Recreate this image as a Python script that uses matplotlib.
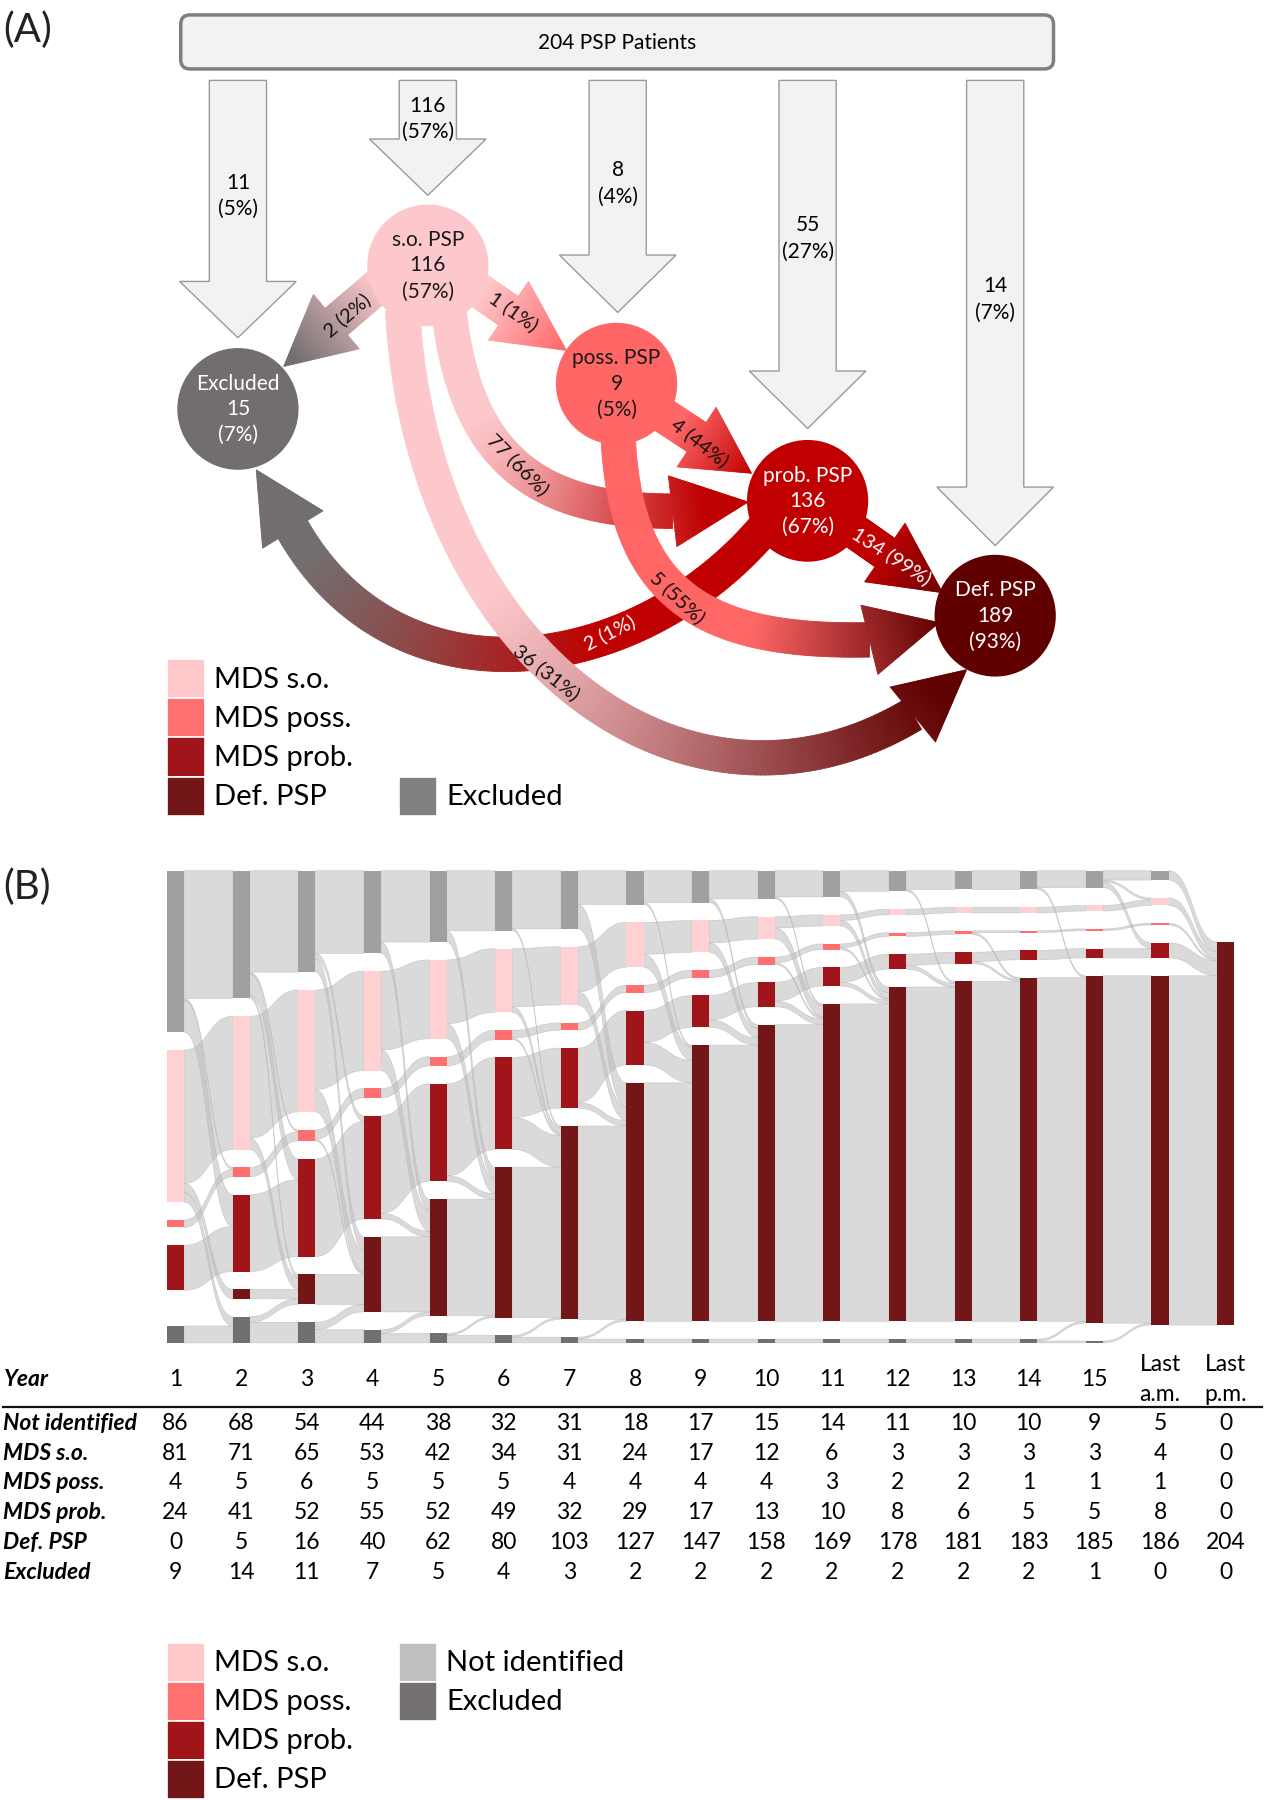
import numpy as np
import matplotlib.pyplot as plt
from matplotlib.patches import Polygon, Ellipse, Rectangle, FancyBboxPatch, PathPatch
from matplotlib.path import Path
from matplotlib.collections import PolyCollection
from matplotlib.colors import to_rgb

plt.rcParams['font.family'] = ['Lato', 'DejaVu Sans']

# ---------------- data, panel A ----------------
entry_n = [11, 116, 8, 55, 14]
entry_pct = [5, 57, 4, 27, 7]
node_names = ['Excluded', 's.o. PSP', 'poss. PSP', 'prob. PSP', 'Def. PSP']
node_n = [15, 116, 9, 136, 189]
node_pct = [7, 57, 5, 67, 93]
flow_src = [1, 1, 2, 1, 1, 2, 3, 3]
flow_dst = [0, 2, 3, 3, 4, 4, 4, 0]
flow_n = [2, 1, 4, 77, 36, 5, 134, 2]
flow_pct = [2, 1, 44, 66, 31, 55, 99, 1]

# ---------------- data, panel B ----------------
years = [str(i) for i in range(1, 16)] + ['Last\na.m.', 'Last\np.m.']
states = ['Not identified', 'MDS s.o.', 'MDS poss.', 'MDS prob.', 'Def. PSP', 'Excluded']
not_identified = [86, 68, 54, 44, 38, 32, 31, 18, 17, 15, 14, 11, 10, 10, 9, 5, 0]
mds_so = [81, 71, 65, 53, 42, 34, 31, 24, 17, 12, 6, 3, 3, 3, 3, 4, 0]
mds_poss = [4, 5, 6, 5, 5, 5, 4, 4, 4, 4, 3, 2, 2, 1, 1, 1, 0]
mds_prob = [24, 41, 52, 55, 52, 49, 32, 29, 17, 13, 10, 8, 6, 5, 5, 8, 0]
def_psp = [0, 5, 16, 40, 62, 80, 103, 127, 147, 158, 169, 178, 181, 183, 185, 186, 204]
excluded = [9, 14, 11, 7, 5, 4, 3, 2, 2, 2, 2, 2, 2, 2, 1, 0, 0]

# ---------------- figure ----------------
fig = plt.figure(figsize=(12.64, 18), dpi=100)
ax = fig.add_axes([0, 0, 1, 1])
ax.set_xlim(0, 1105)
ax.set_ylim(1567, 0)
ax.axis('off')

ax.text(3, 26, '(A)', fontsize=29, va='center', ha='left', color='#222222')
ax.text(3, 772, '(B)', fontsize=29, va='center', ha='left', color='#222222')

# top box
ax.add_patch(FancyBboxPatch((158, 13), 763, 47, boxstyle='round,pad=0,rounding_size=8',
                            fc='#f2f2f2', ec='#7f7f7f', lw=2.5, zorder=2))
ax.text(539.5, 37, '204 PSP Patients', fontsize=15, ha='center', va='center', zorder=3)

# gray entry arrows
arr_cx = [208, 374, 540, 706, 870]
arr_sb = [245, 121, 222, 323, 424]
arr_tip = [294, 170, 272, 373, 475]
arr_ly = [159, 92, 148, 196, 249]
for cx, sb, tp, ly, n, p in zip(arr_cx, arr_sb, arr_tip, arr_ly, entry_n, entry_pct):
    pts = [(cx - 25, 70), (cx + 25, 70), (cx + 25, sb), (cx + 51, sb), (cx, tp),
           (cx - 51, sb), (cx - 25, sb)]
    ax.add_patch(Polygon(pts, closed=True, fc='#f2f2f2', ec='#9a9a9a', lw=1.0, zorder=1))
    ax.text(cx, ly, str(n), fontsize=15, ha='center', va='center', zorder=3)
    ax.text(cx, ly + 23, '(%d%%)' % p, fontsize=15, ha='center', va='center', zorder=3)

# nodes
node_xy = [(208, 356), (374, 231), (539, 334), (706, 436), (870, 536)]
node_fill = ['#736e6e', '#fdc8cc', '#ff6666', '#c00000', '#600000']
node_tc = ['white', '#1a1a1a', '#1a1a1a', 'white', 'white']


def bez(P, n):
    t = np.linspace(0, 1, n)[:, None]
    return ((1 - t) ** 3) * P[0] + 3 * ((1 - t) ** 2) * t * P[1] + 3 * (1 - t) * t ** 2 * P[2] + t ** 3 * P[3]


def grad_arrow(P, tip, c0, c1, g0, g1, z, w=30, hw=62):
    P = np.array(P, float)
    tip = np.array(tip, float)
    pts = bez(P, 160)
    tan = np.gradient(pts, axis=0)
    tan /= np.linalg.norm(tan, axis=1)[:, None]
    nrm = np.column_stack([-tan[:, 1], tan[:, 0]])
    L = pts + nrm * w / 2
    R = pts - nrm * w / 2
    quads = [[L[i], L[i + 1], R[i + 1], R[i]] for i in range(len(pts) - 1)]
    xs = [(pts[i, 0] + pts[i + 1, 0]) / 2 for i in range(len(pts) - 1)]
    base = pts[-1]
    d = tip - base
    d /= np.linalg.norm(d)
    nh = np.array([-d[1], d[0]])
    s = np.linspace(0, 1, 40)
    hp = base + s[:, None] * (tip - base)
    hl = hp + nh * (hw / 2) * (1 - s)[:, None]
    hr = hp - nh * (hw / 2) * (1 - s)[:, None]
    for i in range(len(s) - 1):
        quads.append([hl[i], hl[i + 1], hr[i + 1], hr[i]])
        xs.append((hp[i, 0] + hp[i + 1, 0]) / 2)
    xs = np.array(xs)
    u = (xs - P[0, 0]) / (tip[0] - P[0, 0])
    u = np.clip((u - g0) / (g1 - g0), 0, 1)[:, None]
    cols = np.array(to_rgb(c0)) * (1 - u) + np.array(to_rgb(c1)) * u
    ax.add_collection(PolyCollection(quads, facecolors=cols, edgecolors=cols,
                                     linewidths=0.6, zorder=z))


def straight(a, b):
    a = np.array(a, float)
    b = np.array(b, float)
    return [a, a + (b - a) / 3, a + 2 * (b - a) / 3, b]


flow_geom = [
    straight((340, 241), (294, 280)),
    straight((403, 242), (444.5, 270.5)),
    straight((567, 353), (609, 380.5)),
    [(392, 265), (405, 400), (470, 445), (588, 445)],
    [(352, 270), (368, 570), (600, 740), (798, 622)],
    [(540, 360), (540, 515), (610, 560), (760, 557)],
    straight((732, 452), (773.5, 481)),
    [(680, 445), (570, 590), (350, 625), (256, 461)],
]
flow_tip = [(248, 319), (495, 305), (657, 412), (654, 437), (845, 583),
            (821, 542), (824, 516), (224, 409)]
flow_grad = [(0.1, 0.9), (0.2, 1.0), (0.3, 1.0), (0.1, 0.85), (0.15, 0.95),
             (0.42, 1.0), (0.4, 1.0), (0.35, 0.9)]
flow_lab = [(303, 274, 41), (449, 271, -35), (612, 385, -38), (453, 404, -45),
            (478, 585, -38), (592, 520, -43), (779, 484, -33), (533, 551, 27)]
flow_tc = ['#111111'] * 6 + ['white', 'white']
draw_order = [7, 3, 4, 5, 0, 1, 2, 6]

for k, i in enumerate(draw_order):
    c0 = node_fill[flow_src[i]]
    c1 = node_fill[flow_dst[i]]
    if i == 6:
        c1 = '#6e0000'
    grad_arrow(flow_geom[i], flow_tip[i], c0, c1, flow_grad[i][0], flow_grad[i][1], z=3 + k * 0.1)

for i in range(len(flow_n)):
    x, y, r = flow_lab[i]
    ax.text(x, y, '%d (%d%%)' % (flow_n[i], flow_pct[i]), fontsize=14.5, rotation=r,
            rotation_mode='anchor', ha='center', va='center', color=flow_tc[i], zorder=6)

for (x, y), nm, n, p, fc, tc in zip(node_xy, node_names, node_n, node_pct, node_fill, node_tc):
    ax.add_patch(Ellipse((x, y), 106, 106, fc=fc, ec='none', zorder=5))
    ax.text(x, y - 22, nm, fontsize=15, ha='center', va='center', color=tc, zorder=6)
    ax.text(x, y, str(n), fontsize=15, ha='center', va='center', color=tc, zorder=6)
    ax.text(x, y + 23, '(%d%%)' % p, fontsize=15, ha='center', va='center', color=tc, zorder=6)

# legend A
legA_lab = ['MDS s.o.', 'MDS poss.', 'MDS prob.', 'Def. PSP']
legA_col = ['#ffc9cc', '#ff7070', '#a0151a', '#731618']
for k, (lab, c) in enumerate(zip(legA_lab, legA_col)):
    y0 = 574 + k * 34
    ax.add_patch(Rectangle((146, y0), 33, 34, fc=c, ec='white', lw=1.2, zorder=2))
    ax.text(187, y0 + 18, lab, fontsize=21, ha='left', va='center')
ax.add_patch(Rectangle((349, 676), 33, 34, fc='#808080', ec='white', lw=1.2, zorder=2))
ax.text(390, 694, 'Excluded', fontsize=21, ha='left', va='center')

# ---------------- panel B: alluvial ----------------
counts = np.array([not_identified, mds_so, mds_poss, mds_prob, def_psp, excluded], float)
nst, ncol = counts.shape
x_left = 146 + np.arange(ncol) * 57.375
bw = 15
top, sc, gap = 758, 1.635, 15.5
bar_col = ['#a0a0a0', '#ffd1d3', '#ff6f6f', '#a0151a', '#731618', '#707070']

ytop = np.zeros((nst, ncol))
for c in range(ncol):
    y = top
    for k in range(nst):
        ytop[k, c] = y
        y += counts[k, c] * sc + gap


def transitions(a, b):
    F = np.zeros((len(a), len(b)))
    for i in range(len(a)):
        F[i, i] = min(a[i], b[i])
    r = a - F.diagonal()
    q = b - F.diagonal()
    i = j = 0
    while i < len(a) and j < len(b):
        if r[i] <= 0:
            i += 1
            continue
        if q[j] <= 0:
            j += 1
            continue
        m = min(r[i], q[j])
        F[i, j] += m
        r[i] -= m
        q[j] -= m
    return F


for c in range(ncol - 1):
    F = transitions(counts[:, c], counts[:, c + 1])
    out_off = ytop[:, c].copy()
    in_off = ytop[:, c + 1].copy()
    x0 = x_left[c] + bw
    x1 = x_left[c + 1]
    xm = (x0 + x1) / 2
    for i in range(nst):
        for j in range(nst):
            f = F[i, j]
            if f <= 0:
                continue
            h = f * sc
            a0, a1 = out_off[i], out_off[i] + h
            b0, b1 = in_off[j], in_off[j] + h
            out_off[i] += h
            in_off[j] += h
            verts = [(x0, a0), (xm, a0), (xm, b0), (x1, b0), (x1, b1),
                     (xm, b1), (xm, a1), (x0, a1), (x0, a0)]
            codes = [Path.MOVETO, Path.CURVE4, Path.CURVE4, Path.CURVE4, Path.LINETO,
                     Path.CURVE4, Path.CURVE4, Path.CURVE4, Path.CLOSEPOLY]
            ax.add_patch(PathPatch(Path(verts, codes), fc='#bcbcbc', ec='#b4b4b4',
                                   lw=0.5, alpha=0.55, zorder=1))

for c in range(ncol):
    for k in range(nst):
        if counts[k, c] > 0:
            ax.add_patch(Rectangle((x_left[c], ytop[k, c]), bw, counts[k, c] * sc,
                                   fc=bar_col[k], ec='none', zorder=2))

# table
fs_tab = 16.5
col_cx = x_left + bw / 2
ax.text(3, 1201, 'Year', fontsize=fs_tab, fontweight='bold', style='italic', ha='left', va='center')
for c, yr in enumerate(years):
    if '\n' in yr:
        a, b = yr.split('\n')
        ax.text(col_cx[c], 1188, a, fontsize=fs_tab, ha='center', va='center')
        ax.text(col_cx[c], 1214, b, fontsize=fs_tab, ha='center', va='center')
    else:
        ax.text(col_cx[c], 1201, yr, fontsize=fs_tab, ha='center', va='center')
ax.plot([3, 1103], [1225, 1225], color='#111111', lw=1.6)
for k, st in enumerate(states):
    y = 1239 + 26 * k
    ax.text(3, y, st, fontsize=fs_tab, fontweight='bold', style='italic', ha='left', va='center')
    for c in range(ncol):
        ax.text(col_cx[c], y, '%d' % counts[k, c], fontsize=fs_tab, ha='center', va='center')

# legend B
legB_lab = ['MDS s.o.', 'MDS poss.', 'MDS prob.', 'Def. PSP']
legB_col = ['#ffc9cc', '#ff7070', '#a0151a', '#731618']
for k, (lab, c) in enumerate(zip(legB_lab, legB_col)):
    y0 = 1430 + k * 34
    ax.add_patch(Rectangle((146, y0), 33, 34, fc=c, ec='white', lw=1.2, zorder=2))
    ax.text(187, y0 + 18, lab, fontsize=21, ha='left', va='center')
for k, (lab, c) in enumerate(zip(['Not identified', 'Excluded'], ['#bfbfbf', '#757171'])):
    y0 = 1430 + k * 34
    ax.add_patch(Rectangle((349, y0), 33, 34, fc=c, ec='white', lw=1.2, zorder=2))
    ax.text(390, y0 + 18, lab, fontsize=21, ha='left', va='center')

fig.savefig('out.png', dpi=100, facecolor='white')
